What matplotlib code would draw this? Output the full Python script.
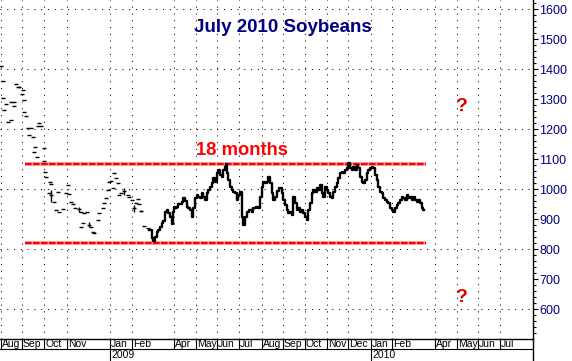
import matplotlib
matplotlib.use("Agg")
import matplotlib.pyplot as plt
import pandas as pd

plt.rcParams['font.family'] = ['Liberation Sans', 'DejaVu Sans']

# trading-day index counted from 2008-08-01 (weekdays)
START = '2008-08-01'
END = '2010-08-31'

# early, thinly traded period: isolated day ticks
early_day = [0, 2, 2, 3, 5, 7, 10, 10, 13, 13, 15, 17, 18, 21, 22, 23, 23, 25, 27, 28,
             30, 32, 33, 34, 36, 37, 38, 40, 43, 43, 44, 45, 48, 49, 50, 50, 53, 55, 57, 58,
             62, 65, 67, 68, 70, 72, 74, 78, 80, 80, 82, 83, 86, 88, 90, 92, 93, 97, 98, 102,
             103, 105, 107, 108, 110, 112, 113, 115, 117, 118, 120, 123, 127, 128, 131, 133,
             135, 137, 138, 140, 143, 147]
early_close = [1410, 1360, 1303, 1263, 1283, 1223, 1230, 1290, 1290, 1277, 1350, 1340, 1340,
               1317, 1330, 1297, 1257, 1243, 1203, 1180, 1203, 1173, 1123, 1140, 1107, 1210,
               1220, 1210, 1137, 1093, 1057, 1040, 987, 1023, 1017, 980, 957, 930, 990, 923,
               933, 987, 1013, 983, 957, 950, 937, 933, 923, 873, 887, 920, 923, 880, 873, 857,
               853, 897, 920, 937, 953, 970, 997, 1023, 1027, 1003, 1053, 1037, 1020, 980, 987,
               993, 980, 973, 963, 937, 953, 967, 950, 927, 877, 870]
# the few early days with a visible high-low range
early_bar_day = [50, 78, 88, 123, 133, 140]
early_bar_high = [997, 940, 890, 1003, 947, 930]
early_bar_low = [957, 923, 873, 980, 923, 923]

# active trading from Feb 2009 on
day = [148, 150, 152, 153, 155, 157, 158, 160, 162, 163, 165, 167, 168, 170, 172, 173, 174,
       175, 177, 178, 180, 182, 183, 185, 187, 188, 190, 192, 193, 195, 197, 198, 200, 202,
       203, 205, 207, 208, 210, 212, 213, 215, 217, 218, 220, 222, 223, 225, 226, 227, 228,
       230, 232, 233, 235, 237, 238, 240, 242, 243, 245, 247, 250, 252, 253, 257, 258, 260,
       262, 263, 265, 267, 268, 270, 272, 273, 275, 277, 279, 280, 282, 283, 285, 287, 288,
       290, 292, 293, 295, 297, 298, 300, 302, 303, 305, 307, 308, 310, 312, 313, 315, 317,
       318, 320, 322, 323, 325, 327, 328, 330, 332, 333, 335, 337, 338, 340, 342, 343, 345,
       347, 348, 350, 352, 353, 355, 357, 358, 360, 362, 363, 365, 367, 368, 370, 372, 373,
       375, 377, 378, 380, 382, 383, 385, 387, 388, 390, 392, 393, 395, 397, 398, 400, 402,
       403, 405, 407, 408, 410, 412, 413, 415, 417, 418, 420, 422, 423]
close = [863, 863, 837, 827, 840, 857, 863, 873, 887, 893, 923, 930, 920, 907, 883, 923, 940,
         937, 940, 950, 950, 957, 970, 960, 940, 937, 930, 907, 937, 970, 980, 973, 970, 987,
         973, 963, 987, 997, 1007, 1020, 1037, 1023, 1053, 1063, 1047, 1040, 1063, 1073, 1083,
         1053, 1030, 1007, 997, 990, 987, 963, 980, 990, 907, 880, 907, 923, 930, 923, 937,
         940, 937, 973, 1007, 1023, 1020, 1023, 1040, 1020, 987, 963, 973, 993, 1003, 1003,
         987, 963, 947, 930, 920, 923, 913, 973, 953, 930, 937, 923, 930, 920, 907, 897, 930,
         953, 987, 997, 990, 1003, 997, 1013, 987, 973, 1007, 997, 987, 973, 970, 990, 1007,
         1020, 1037, 1053, 1057, 1053, 1063, 1070, 1087, 1070, 1063, 1073, 1063, 1080, 1070,
         1040, 1023, 1020, 1030, 1053, 1063, 1070, 1073, 1070, 1047, 1030, 1007, 990, 987, 970,
         963, 957, 953, 937, 930, 923, 937, 947, 953, 963, 973, 970, 963, 980, 970, 973, 963,
         973, 963, 957, 963, 953, 937, 930]

range_top = 1082
range_bottom = 821
range_start, range_end = 24, 425

# month boxes shown on the time axis (Dec 08, Mar 09, Mar 10 have no label)
month_labels = ['2008-08', '2008-09', '2008-10', '2008-11', '2009-01', '2009-02', '2009-04',
                '2009-05', '2009-06', '2009-07', '2009-08', '2009-09', '2009-10', '2009-11',
                '2009-12', '2010-01', '2010-02', '2010-04', '2010-05', '2010-06', '2010-07']
year_labels = ['2009-01', '2010-01']

NAVY = '#000080'
RED = '#ff0000'

sessions = pd.bdate_range(START, END)


def session_of(month):
    return sessions.searchsorted(pd.Timestamp(month + '-01'))


fig = plt.figure(figsize=(5.72, 3.61), dpi=100)
ax = fig.add_axes([0, 22 / 361, 533 / 572, 339 / 361])
x0, x1 = -0.7, 532.3
ax.set_xlim(x0, x1)
ax.set_ylim(500, 1630)

# dotted grid
dot = (0, (1, 5.5))
for lvl in range(600, 1601, 200):
    ax.axhline(lvl, color='black', lw=0.75, ls=dot, zorder=1)
for m in month_labels:
    ax.axvline(session_of(m), color='black', lw=0.75, ls=dot, zorder=1)

# range lines
for lvl in (range_top, range_bottom):
    ax.plot([range_start, range_end], [lvl, lvl], color='#f6a8a8', lw=2.8,
            solid_capstyle='butt', zorder=2)
    ax.plot([range_start, range_end], [lvl, lvl], color=RED, lw=1.6,
            dashes=(3.0, 0.6), zorder=3)

# price
ax.scatter(early_day, early_close, marker='_', s=5, color='black', lw=1, zorder=4)
ax.vlines(early_bar_day, early_bar_low, early_bar_high, color='black', lw=1, zorder=4)
ax.plot(day, close, color='black', lw=1.7, drawstyle='steps-mid', zorder=5)

# annotations
ax.text(0.531, 0.92, 'July 2010 Soybeans', transform=ax.transAxes, ha='center',
        va='center', color=NAVY, fontsize=13.5, fontweight='bold')
ax.text(241, 1127, '18 months', ha='center', va='center', color=RED,
        fontsize=13.2, fontweight='bold', zorder=6)
ax.text(460, 1275, '?', ha='center', va='center', color='#e00000', fontsize=14,
        fontweight='bold')
ax.text(460, 640, '?', ha='center', va='center', color='#e00000', fontsize=14,
        fontweight='bold')

# right price axis
for s in ('left', 'top'):
    ax.spines[s].set_visible(False)
ax.spines['right'].set_linewidth(1)
ax.spines['bottom'].set_linewidth(1)
ax.yaxis.tick_right()
ax.set_yticks(range(600, 1601, 100))
ax.set_yticks(range(520, 1630, 20), minor=True)
ax.tick_params(axis='y', which='major', length=3.5, width=0.8, pad=1,
               labelsize=9, labelcolor=NAVY)
ax.tick_params(axis='y', which='minor', length=2, width=0.8)
ax.set_xticks([])

# time axis strip
ax2 = fig.add_axes([0, 0, 533 / 572, 22 / 361])
ax2.set_xlim(x0, x1)
ax2.set_ylim(0, 22)
ax2.axis('off')
ax2.plot([x0, x1], [12.5, 12.5], color='black', lw=0.8)
ax2.plot([x1, x1], [0, 22], color='black', lw=1, clip_on=False)
for m in month_labels:
    xs = session_of(m)
    ax2.plot([xs, xs], [12.5, 22], color='black', lw=0.8)
    ax2.text(xs + 1.3, 17.2, pd.Timestamp(m + '-01').strftime('%b'), ha='left',
             va='center', fontsize=7.5, color='black')
for m in year_labels:
    xs = session_of(m)
    ax2.plot([xs, xs], [0, 12.5], color='black', lw=0.8)
    ax2.text(xs + 1.3, 6.2, m[:4], ha='left', va='center', fontsize=7.5, color='black')

fig.savefig('out.png', dpi=100, facecolor='white')
